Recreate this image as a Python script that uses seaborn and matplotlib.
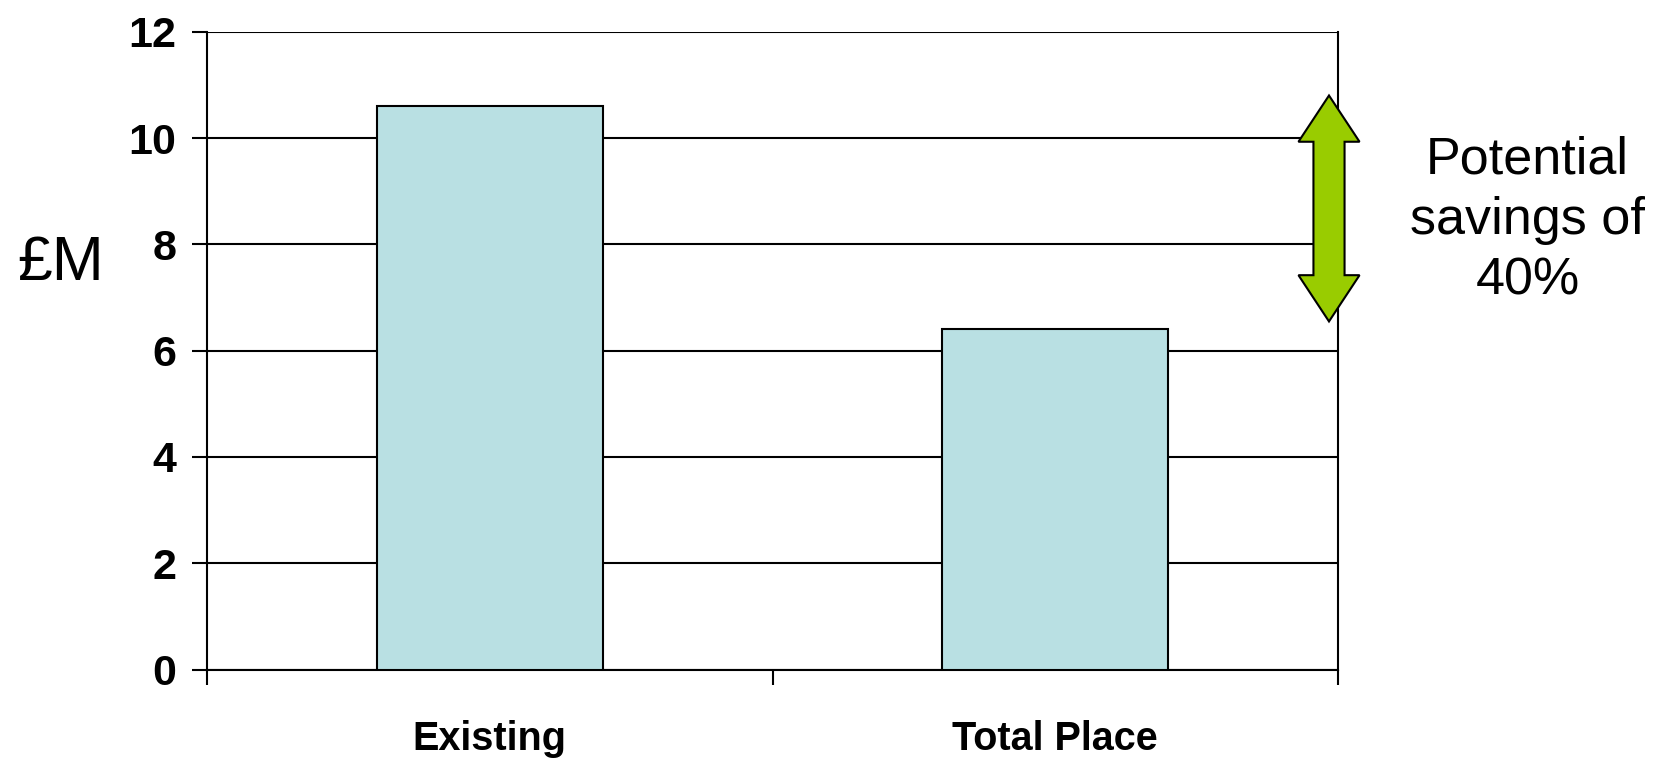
import matplotlib
matplotlib.use("Agg")
import matplotlib.pyplot as plt
from matplotlib.patches import Polygon
import seaborn as sns
import pandas as pd
import numpy as np

categories = ["Existing", "Total Place"]
values = [10.6, 6.4]
y_ticks = [0, 2, 4, 6, 8, 10, 12]

sns.set_theme(style="white")
plt.rcParams['font.family'] = ['Liberation Sans', 'DejaVu Sans']
plt.rcParams['text.color'] = 'black'
plt.rcParams['xtick.color'] = 'black'
plt.rcParams['ytick.color'] = 'black'

df = pd.DataFrame({"category": categories, "value": values})

fig = plt.figure(figsize=(16.56, 7.64), dpi=100)
ax = fig.add_axes([0.125, 0.1235, 0.683, 0.835])

sns.barplot(data=df, x="category", y="value", color="#B9E0E3", width=0.4,
            edgecolor="black", linewidth=1.5, saturation=1, ax=ax, zorder=3)

ax.set_ylim(0, 12)
ax.set_xlim(-0.5, 1.5)
ax.set_yticks(y_ticks)
ax.set_yticklabels([str(t) for t in y_ticks], fontsize=31, fontweight='bold', color='black')
ax.set_xticks(range(len(categories)))
ax.set_xticklabels(categories, fontsize=28.5, fontweight='bold', color='black')
ax.set_xticks(np.arange(-0.5, len(categories), 1.0), minor=True)
ax.tick_params(axis='x', which='major', length=0, pad=36)
ax.tick_params(axis='x', which='minor', length=11, width=1.5, color='black', direction='out', bottom=True)
ax.tick_params(axis='y', which='major', length=11, width=1.5, color='black', direction='out', left=True, pad=11)
ax.set_xlabel("")
ax.set_ylabel("")
ax.yaxis.grid(True, color='black', linewidth=1.5, zorder=0)
ax.set_axisbelow(True)
for s in ax.spines.values():
    s.set_color('black')
    s.set_linewidth(1.5)
ax.spines['top'].set_visible(False)

# double-headed arrow showing savings
x_c = 1.484
shaft_w = 0.0275
head_w = 0.054
head_len = 0.87
top = values[0] + 0.2
bot = values[1] + 0.15
verts = [
    (x_c, top), (x_c + head_w, top - head_len), (x_c + shaft_w, top - head_len),
    (x_c + shaft_w, bot + head_len), (x_c + head_w, bot + head_len), (x_c, bot),
    (x_c - head_w, bot + head_len), (x_c - shaft_w, bot + head_len),
    (x_c - shaft_w, top - head_len), (x_c - head_w, top - head_len),
]
ax.add_patch(Polygon(verts, closed=True, facecolor="#99CC00", edgecolor="black",
                     linewidth=1.5, clip_on=False, zorder=5))

saving_pct = round((1 - values[1] / values[0]) * 100, -1)
fig.text(0.9225, 0.711, f"Potential\nsavings of\n{saving_pct:.0f}%", ha='center', va='center',
         fontsize=37.5, color='black', linespacing=1.3)
fig.text(0.0365, 0.655, "£M", ha='center', va='center', fontsize=45, color='black')

fig.savefig("out.png", dpi=100)
